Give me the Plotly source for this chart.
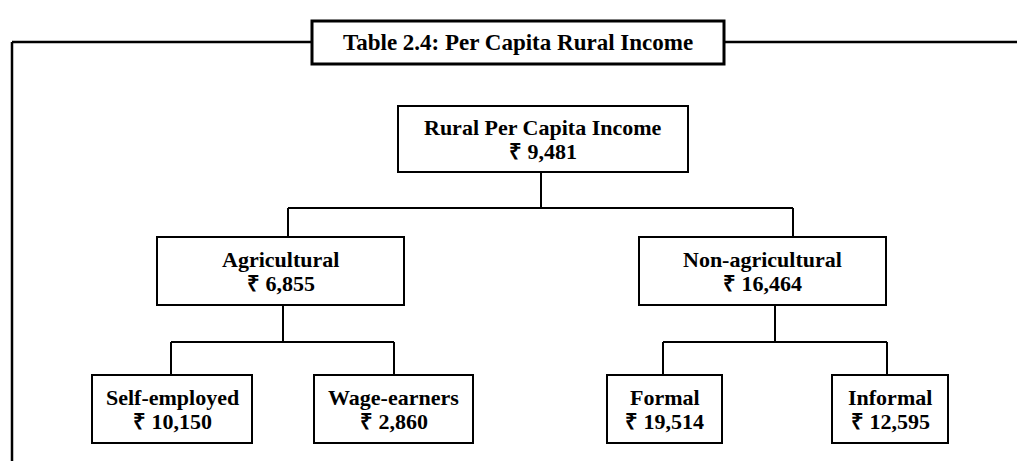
import plotly.graph_objects as go

# ---------------- data ----------------
title_text = "Table 2.4: Per Capita Rural Income"
currency = "₹"
node_labels = ["Rural Per Capita Income", "Agricultural", "Non-agricultural",
               "Self-employed", "Wage-earners", "Formal", "Informal"]
node_values = [9481, 6855, 16464, 10150, 2860, 19514, 12595]
node_parents = [None, 0, 0, 1, 1, 2, 2]

# ---------------- layout (pixel coordinates on a 1017x461 canvas) ----------------
W, H = 1017, 461
# box extents: (x0, x1, y0, y1)
box_pos = [
    (398, 688, 106, 172),
    (157, 404, 237, 305),
    (639, 886, 237, 305),
    (92, 252, 375, 443),
    (314, 473, 375, 443),
    (607, 722, 375, 443),
    (832, 948, 375, 443),
]
# x where a node's connector attaches (top for children, bottom for parents)
attach_top_x = [None, 288, 793, 171, 394, 663, 887]
attach_bottom_x = [541, 283, 775, None, None, None, None]
# y of the horizontal bus below each parent
bus_y = {0: 208, 1: 342, 2: 342}

title_box = (312, 724, 21, 64)
frame_y = 42
frame_x = 12
line_gap = 12

LINE = dict(color="black", width=2)
FONT = "Liberation Serif"

fig = go.Figure()
fig.add_trace(go.Scatter(x=[0, W], y=[0, H], mode="markers",
                         marker=dict(opacity=0), hoverinfo="skip", showlegend=False))

shapes = []
annotations = []

# outer frame line with title box
shapes.append(dict(type="line", x0=frame_x, x1=frame_x, y0=frame_y, y1=H + 5,
                   line=dict(color="black", width=2.5)))
shapes.append(dict(type="line", x0=frame_x, x1=title_box[0], y0=frame_y, y1=frame_y,
                   line=dict(color="black", width=2.5)))
shapes.append(dict(type="line", x0=title_box[1], x1=W + 5, y0=frame_y, y1=frame_y,
                   line=dict(color="black", width=2.5)))
shapes.append(dict(type="rect", x0=title_box[0], x1=title_box[1], y0=title_box[2],
                   y1=title_box[3], line=dict(color="black", width=3), fillcolor="white"))
annotations.append(dict(x=(title_box[0] + title_box[1]) / 2,
                        y=(title_box[2] + title_box[3]) / 2,
                        text="<b>" + title_text + "</b>", showarrow=False,
                        font=dict(family=FONT, size=23, color="black"),
                        xanchor="center", yanchor="middle"))

# connectors
for p, yb in bus_y.items():
    kids = [i for i, par in enumerate(node_parents) if par == p]
    px = attach_bottom_x[p]
    shapes.append(dict(type="line", x0=px, x1=px, y0=box_pos[p][3], y1=yb, line=LINE))
    xs = [attach_top_x[k] for k in kids]
    shapes.append(dict(type="line", x0=min(xs), x1=max(xs), y0=yb, y1=yb, line=LINE))
    for k in kids:
        shapes.append(dict(type="line", x0=attach_top_x[k], x1=attach_top_x[k],
                           y0=yb, y1=box_pos[k][2], line=LINE))

# boxes with labels
for i, (lab, val) in enumerate(zip(node_labels, node_values)):
    x0, x1, y0, y1 = box_pos[i]
    shapes.append(dict(type="rect", x0=x0, x1=x1, y0=y0, y1=y1,
                       line=LINE, fillcolor="white"))
    cx, cy = (x0 + x1) / 2, (y0 + y1) / 2
    annotations.append(dict(x=cx, y=cy - line_gap, text=f"<b>{lab}</b>",
                            showarrow=False,
                            font=dict(family=FONT, size=22, color="black"),
                            xanchor="center", yanchor="middle"))
    annotations.append(dict(x=cx, y=cy + line_gap, text=f"<b>{currency} {val:,}</b>",
                            showarrow=False,
                            font=dict(family=FONT, size=22, color="black"),
                            xanchor="center", yanchor="middle"))

fig.update_layout(
    width=W, height=H,
    margin=dict(l=0, r=0, t=0, b=0),
    paper_bgcolor="white", plot_bgcolor="white",
    xaxis=dict(range=[0, W], visible=False, fixedrange=True),
    yaxis=dict(range=[H, 0], visible=False, fixedrange=True),
    shapes=shapes, annotations=annotations,
    showlegend=False,
)

fig.write_html("out.html", config={"displayModeBar": False},
               post_script="document.body.style.margin='0';"
                           "document.body.style.overflow='hidden';")
